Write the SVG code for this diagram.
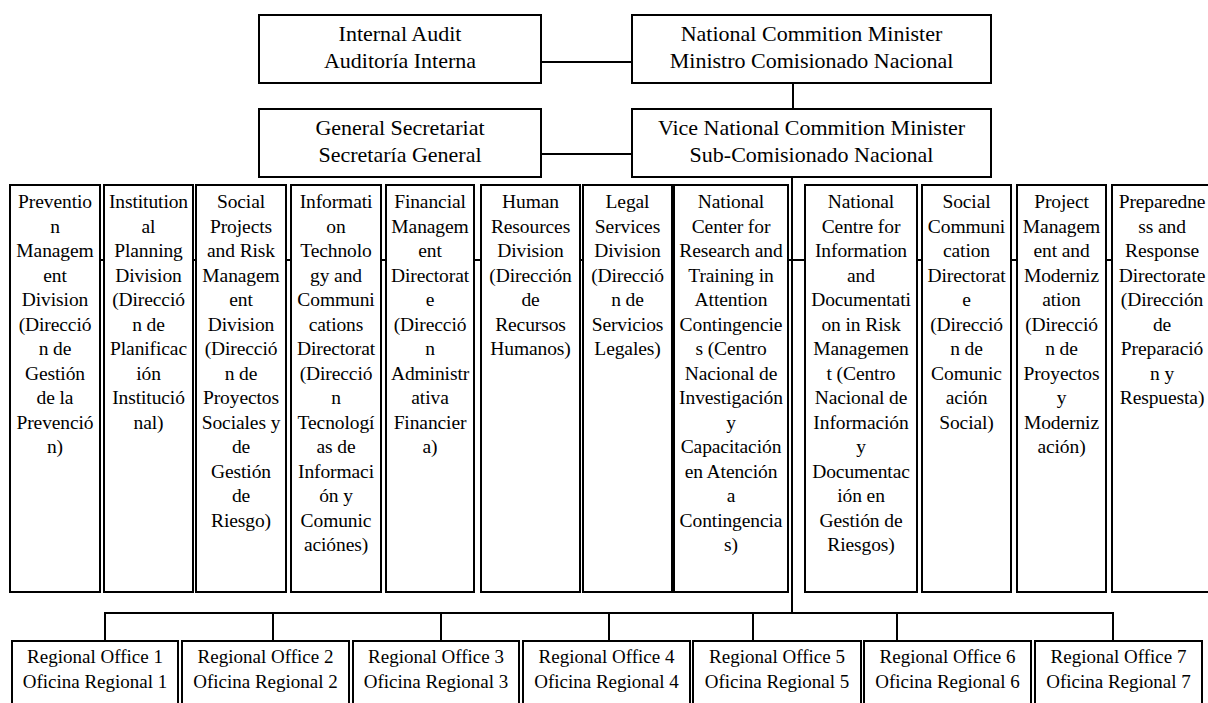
<svg xmlns="http://www.w3.org/2000/svg" width="1208" height="703" viewBox="0 0 1208 703">
  <style>
    .box { fill: #ffffff; stroke: #000000; stroke-width: 2; }
    .wire { fill: none; stroke: #000000; stroke-width: 2; }
    text { fill: #000000; text-anchor: middle; }
    .top { font-size: 22px; }
    .div { font-size: 19.5px; letter-spacing: -0.1px; }
    .reg { font-size: 19px; }
  </style>
  <rect width="1208" height="703" fill="#ffffff"/>

  <!-- connectors, drawn first so the white boxes sit on top of the buses -->
  <g id="connectors">
    <line class="wire" x1="541" y1="62" x2="632" y2="62"/>
    <line class="wire" x1="541" y1="154" x2="632" y2="154"/>
    <line class="wire" x1="793" y1="83" x2="793" y2="109"/>
    <line class="wire" x1="792" y1="177" x2="792" y2="614"/>
    <!-- division bus -->
    <line class="wire" x1="55" y1="260" x2="1162" y2="260"/>
    <!-- regional bus and drops -->
    <polyline class="wire" points="105,641 105,613 1113,613 1113,641"/>
    <line class="wire" x1="273" y1="613" x2="273" y2="641"/>
    <line class="wire" x1="441" y1="613" x2="441" y2="641"/>
    <line class="wire" x1="609" y1="613" x2="609" y2="641"/>
    <line class="wire" x1="753" y1="613" x2="753" y2="641"/>
    <line class="wire" x1="897" y1="613" x2="897" y2="641"/>
  </g>

  <g font-family="'Liberation Serif', 'DejaVu Serif', serif">
  <!-- top management -->
  <g id="internal-audit">
    <rect class="box" x="259" y="15" width="282" height="68"/>
    <text class="top" x="400" y="41">Internal Audit<tspan x="400" dy="27">Auditoría Interna</tspan></text>
  </g>
  <g id="national-minister">
    <rect class="box" x="632" y="15" width="359" height="68"/>
    <text class="top" x="811.5" y="41">National Commition Minister<tspan x="811.5" dy="27">Ministro Comisionado Nacional</tspan></text>
  </g>
  <g id="general-secretariat">
    <rect class="box" x="259" y="109" width="282" height="68"/>
    <text class="top" x="400" y="135">General Secretariat<tspan x="400" dy="27">Secretaría General</tspan></text>
  </g>
  <g id="vice-minister">
    <rect class="box" x="632" y="109" width="359" height="68"/>
    <text class="top" x="811.5" y="135">Vice National Commition Minister<tspan x="811.5" dy="27">Sub-Comisionado Nacional</tspan></text>
  </g>

  <!-- divisions -->
  <g id="prevention">
    <rect class="box" x="10" y="185" width="90" height="407"/>
    <text class="div" x="55" y="208">Preventio<tspan x="55" dy="24.5">n</tspan><tspan x="55" dy="24.5">Managem</tspan><tspan x="55" dy="24.5">ent</tspan><tspan x="55" dy="24.5">Division</tspan><tspan x="55" dy="24.5">(Direcció</tspan><tspan x="55" dy="24.5">n de</tspan><tspan x="55" dy="24.5">Gestión</tspan><tspan x="55" dy="24.5">de la</tspan><tspan x="55" dy="24.5">Prevenció</tspan><tspan x="55" dy="24.5">n)</tspan></text>
  </g>
  <g id="institutional-planning">
    <rect class="box" x="104" y="185" width="89" height="407"/>
    <text class="div" x="148.5" y="208">Institution<tspan x="148.5" dy="24.5">al</tspan><tspan x="148.5" dy="24.5">Planning</tspan><tspan x="148.5" dy="24.5">Division</tspan><tspan x="148.5" dy="24.5">(Direcció</tspan><tspan x="148.5" dy="24.5">n de</tspan><tspan x="148.5" dy="24.5">Planificac</tspan><tspan x="148.5" dy="24.5">ión</tspan><tspan x="148.5" dy="24.5">Institució</tspan><tspan x="148.5" dy="24.5">nal)</tspan></text>
  </g>
  <g id="social-projects">
    <rect class="box" x="196" y="185" width="90" height="407"/>
    <text class="div" x="241" y="208">Social<tspan x="241" dy="24.5">Projects</tspan><tspan x="241" dy="24.5">and Risk</tspan><tspan x="241" dy="24.5">Managem</tspan><tspan x="241" dy="24.5">ent</tspan><tspan x="241" dy="24.5">Division</tspan><tspan x="241" dy="24.5">(Direcció</tspan><tspan x="241" dy="24.5">n de</tspan><tspan x="241" dy="24.5">Proyectos</tspan><tspan x="241" dy="24.5">Sociales y</tspan><tspan x="241" dy="24.5">de</tspan><tspan x="241" dy="24.5">Gestión</tspan><tspan x="241" dy="24.5">de</tspan><tspan x="241" dy="24.5">Riesgo)</tspan></text>
  </g>
  <g id="information-technology">
    <rect class="box" x="291" y="185" width="90" height="407"/>
    <text class="div" x="336" y="208">Informati<tspan x="336" dy="24.5">on</tspan><tspan x="336" dy="24.5">Technolo</tspan><tspan x="336" dy="24.5">gy and</tspan><tspan x="336" dy="24.5">Communi</tspan><tspan x="336" dy="24.5">cations</tspan><tspan x="336" dy="24.5">Directorat</tspan><tspan x="336" dy="24.5">(Direcció</tspan><tspan x="336" dy="24.5">n</tspan><tspan x="336" dy="24.5">Tecnologí</tspan><tspan x="336" dy="24.5">as de</tspan><tspan x="336" dy="24.5">Informaci</tspan><tspan x="336" dy="24.5">ón y</tspan><tspan x="336" dy="24.5">Comunic</tspan><tspan x="336" dy="24.5">aciónes)</tspan></text>
  </g>
  <g id="financial-management">
    <rect class="box" x="386" y="185" width="88" height="407"/>
    <text class="div" x="430" y="208">Financial<tspan x="430" dy="24.5">Managem</tspan><tspan x="430" dy="24.5">ent</tspan><tspan x="430" dy="24.5">Directorat</tspan><tspan x="430" dy="24.5">e</tspan><tspan x="430" dy="24.5">(Direcció</tspan><tspan x="430" dy="24.5">n</tspan><tspan x="430" dy="24.5">Administr</tspan><tspan x="430" dy="24.5">ativa</tspan><tspan x="430" dy="24.5">Financier</tspan><tspan x="430" dy="24.5">a)</tspan></text>
  </g>
  <g id="human-resources">
    <rect class="box" x="481" y="185" width="99" height="407"/>
    <text class="div" x="530.5" y="208">Human<tspan x="530.5" dy="24.5">Resources</tspan><tspan x="530.5" dy="24.5">Division</tspan><tspan x="530.5" dy="24.5">(Dirección</tspan><tspan x="530.5" dy="24.5">de</tspan><tspan x="530.5" dy="24.5">Recursos</tspan><tspan x="530.5" dy="24.5">Humanos)</tspan></text>
  </g>
  <g id="legal-services">
    <rect class="box" x="583" y="185" width="89" height="407"/>
    <text class="div" x="627.5" y="208">Legal<tspan x="627.5" dy="24.5">Services</tspan><tspan x="627.5" dy="24.5">Division</tspan><tspan x="627.5" dy="24.5">(Direcció</tspan><tspan x="627.5" dy="24.5">n de</tspan><tspan x="627.5" dy="24.5">Servicios</tspan><tspan x="627.5" dy="24.5">Legales)</tspan></text>
  </g>
  <g id="research-training">
    <rect class="box" x="674" y="185" width="114" height="407"/>
    <text class="div" x="731" y="208">National<tspan x="731" dy="24.5">Center for</tspan><tspan x="731" dy="24.5">Research and</tspan><tspan x="731" dy="24.5">Training in</tspan><tspan x="731" dy="24.5">Attention</tspan><tspan x="731" dy="24.5">Contingencie</tspan><tspan x="731" dy="24.5">s (Centro</tspan><tspan x="731" dy="24.5">Nacional de</tspan><tspan x="731" dy="24.5">Investigación</tspan><tspan x="731" dy="24.5">y</tspan><tspan x="731" dy="24.5">Capacitación</tspan><tspan x="731" dy="24.5">en Atención</tspan><tspan x="731" dy="24.5">a</tspan><tspan x="731" dy="24.5">Contingencia</tspan><tspan x="731" dy="24.5">s)</tspan></text>
  </g>
  <g id="information-documentation">
    <rect class="box" x="805" y="185" width="112" height="407"/>
    <text class="div" x="861" y="208">National<tspan x="861" dy="24.5">Centre for</tspan><tspan x="861" dy="24.5">Information</tspan><tspan x="861" dy="24.5">and</tspan><tspan x="861" dy="24.5">Documentati</tspan><tspan x="861" dy="24.5">on in Risk</tspan><tspan x="861" dy="24.5">Managemen</tspan><tspan x="861" dy="24.5">t (Centro</tspan><tspan x="861" dy="24.5">Nacional de</tspan><tspan x="861" dy="24.5">Información</tspan><tspan x="861" dy="24.5">y</tspan><tspan x="861" dy="24.5">Documentac</tspan><tspan x="861" dy="24.5">ión en</tspan><tspan x="861" dy="24.5">Gestión de</tspan><tspan x="861" dy="24.5">Riesgos)</tspan></text>
  </g>
  <g id="social-communication">
    <rect class="box" x="922" y="185" width="89" height="407"/>
    <text class="div" x="966.5" y="208">Social<tspan x="966.5" dy="24.5">Communi</tspan><tspan x="966.5" dy="24.5">cation</tspan><tspan x="966.5" dy="24.5">Directorat</tspan><tspan x="966.5" dy="24.5">e</tspan><tspan x="966.5" dy="24.5">(Direcció</tspan><tspan x="966.5" dy="24.5">n de</tspan><tspan x="966.5" dy="24.5">Comunic</tspan><tspan x="966.5" dy="24.5">ación</tspan><tspan x="966.5" dy="24.5">Social)</tspan></text>
  </g>
  <g id="project-management">
    <rect class="box" x="1017" y="185" width="89" height="407"/>
    <text class="div" x="1061.5" y="208">Project<tspan x="1061.5" dy="24.5">Managem</tspan><tspan x="1061.5" dy="24.5">ent and</tspan><tspan x="1061.5" dy="24.5">Moderniz</tspan><tspan x="1061.5" dy="24.5">ation</tspan><tspan x="1061.5" dy="24.5">(Direcció</tspan><tspan x="1061.5" dy="24.5">n de</tspan><tspan x="1061.5" dy="24.5">Proyectos</tspan><tspan x="1061.5" dy="24.5">y</tspan><tspan x="1061.5" dy="24.5">Moderniz</tspan><tspan x="1061.5" dy="24.5">ación)</tspan></text>
  </g>
  <g id="preparedness-response">
    <rect class="box" x="1112" y="185" width="100" height="407"/>
    <text class="div" x="1162" y="208">Preparedne<tspan x="1162" dy="24.5">ss and</tspan><tspan x="1162" dy="24.5">Response</tspan><tspan x="1162" dy="24.5">Directorate</tspan><tspan x="1162" dy="24.5">(Dirección</tspan><tspan x="1162" dy="24.5">de</tspan><tspan x="1162" dy="24.5">Preparació</tspan><tspan x="1162" dy="24.5">n y</tspan><tspan x="1162" dy="24.5">Respuesta)</tspan></text>
  </g>

  <!-- regional offices -->
  <g id="regional-1">
    <rect class="box" x="12" y="641" width="166" height="72"/>
    <text class="reg" x="95" y="663">Regional Office 1<tspan x="95" dy="25">Oficina Regional 1</tspan></text>
  </g>
  <g id="regional-2">
    <rect class="box" x="182" y="641" width="167" height="72"/>
    <text class="reg" x="265.5" y="663">Regional Office 2<tspan x="265.5" dy="25">Oficina Regional 2</tspan></text>
  </g>
  <g id="regional-3">
    <rect class="box" x="353" y="641" width="166" height="72"/>
    <text class="reg" x="436" y="663">Regional Office 3<tspan x="436" dy="25">Oficina Regional 3</tspan></text>
  </g>
  <g id="regional-4">
    <rect class="box" x="523" y="641" width="167" height="72"/>
    <text class="reg" x="606.5" y="663">Regional Office 4<tspan x="606.5" dy="25">Oficina Regional 4</tspan></text>
  </g>
  <g id="regional-5">
    <rect class="box" x="693" y="641" width="168" height="72"/>
    <text class="reg" x="777" y="663">Regional Office 5<tspan x="777" dy="25">Oficina Regional 5</tspan></text>
  </g>
  <g id="regional-6">
    <rect class="box" x="864" y="641" width="167" height="72"/>
    <text class="reg" x="947.5" y="663">Regional Office 6<tspan x="947.5" dy="25">Oficina Regional 6</tspan></text>
  </g>
  <g id="regional-7">
    <rect class="box" x="1035" y="641" width="167" height="72"/>
    <text class="reg" x="1118.5" y="663">Regional Office 7<tspan x="1118.5" dy="25">Oficina Regional 7</tspan></text>
  </g>
  </g>
</svg>
